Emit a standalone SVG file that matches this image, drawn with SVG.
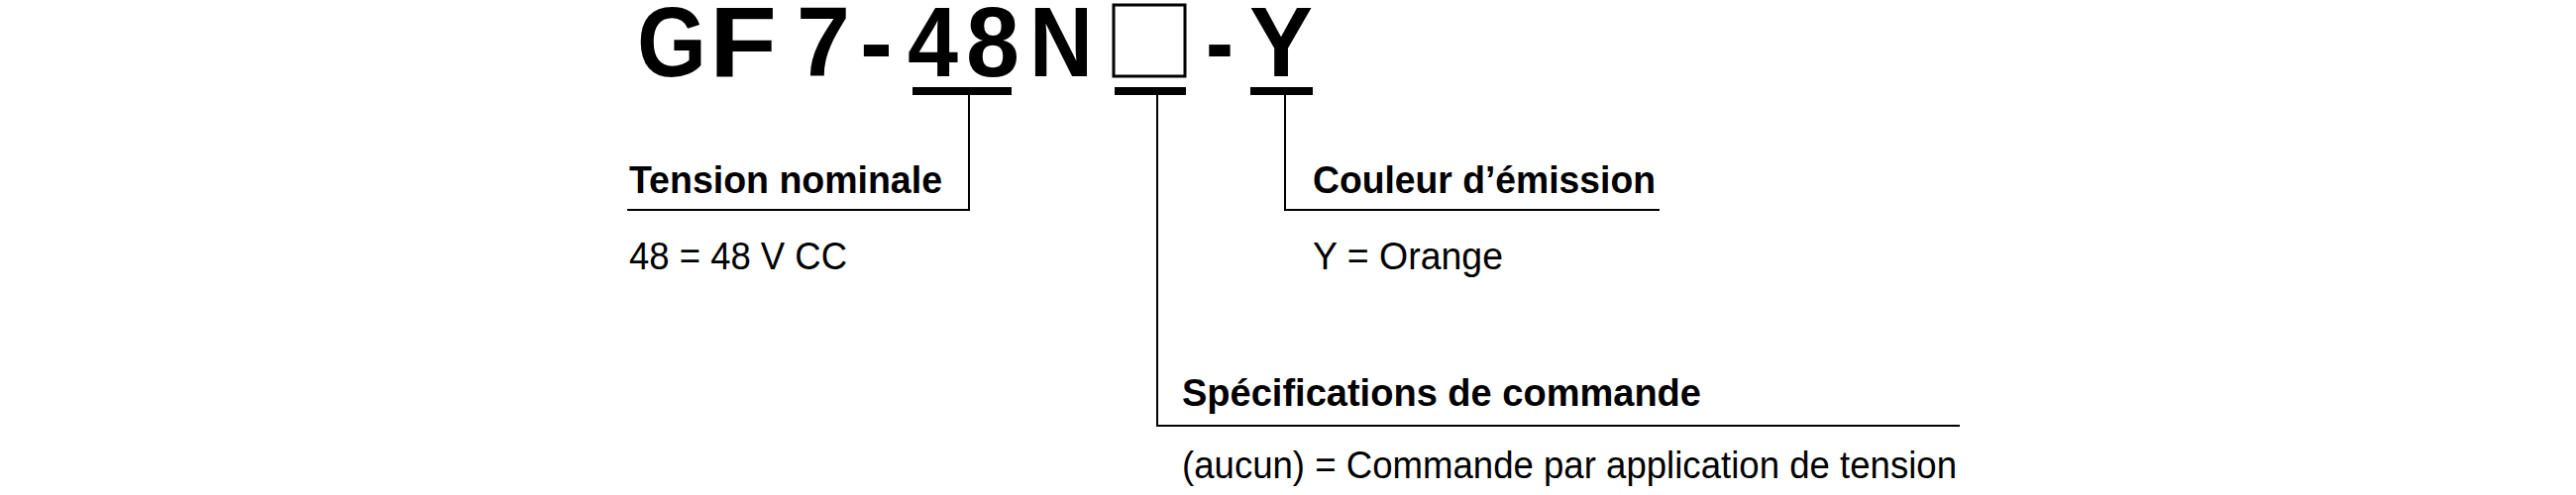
<svg xmlns="http://www.w3.org/2000/svg" width="2600" height="500" viewBox="0 0 2600 500">
<style>
.t{font-family:"Liberation Sans",Arial,sans-serif;font-weight:bold;font-size:100px;fill:#000}
.b{font-family:"Liberation Sans",Arial,sans-serif;font-weight:bold;font-size:38px;fill:#000}
.r{font-family:"Liberation Sans",Arial,sans-serif;font-size:38px;fill:#000}
.ul{stroke:#000;stroke-width:8;fill:none}
.ln{stroke:#000;stroke-width:2;fill:none}
</style>
<rect width="2600" height="500" fill="#fff"/>
<g id="code">
<text class="t" x="643" y="77" textLength="70" lengthAdjust="spacingAndGlyphs">G</text>
<text class="t" x="716" y="77" textLength="68" lengthAdjust="spacingAndGlyphs">F</text>
<text class="t" x="804" y="77" textLength="54" lengthAdjust="spacingAndGlyphs">7</text>
<text class="t" x="868" y="77" textLength="33" lengthAdjust="spacingAndGlyphs">-</text>
<text class="t" x="916" y="77" textLength="51" lengthAdjust="spacingAndGlyphs">4</text>
<text class="t" x="975" y="77" textLength="54" lengthAdjust="spacingAndGlyphs">8</text>
<text class="t" x="1039" y="77" textLength="64" lengthAdjust="spacingAndGlyphs">N</text>
<rect x="1124" y="5" width="72" height="72" fill="none" stroke="#000" stroke-width="3"/>
<text class="t" x="1217" y="77" textLength="28" lengthAdjust="spacingAndGlyphs">-</text>
<text class="t" x="1261" y="77" textLength="64" lengthAdjust="spacingAndGlyphs">Y</text>
</g>
<g id="connectors">
<line class="ul" x1="921" y1="92" x2="1021" y2="92"/>
<line class="ul" x1="1125" y1="92" x2="1197" y2="92"/>
<line class="ul" x1="1262" y1="92" x2="1325" y2="92"/>
<polyline class="ln" points="978,92 978,212 633,212"/>
<polyline class="ln" points="1168,92 1168,430 1978,430"/>
<polyline class="ln" points="1297,92 1297,212 1675,212"/>
</g>
<g id="tension">
<text class="b" x="635" y="195" textLength="316" lengthAdjust="spacingAndGlyphs">Tension nominale</text>
<text class="r" x="635" y="272" textLength="220" lengthAdjust="spacingAndGlyphs">48 = 48 V CC</text>
</g>
<g id="couleur">
<text class="b" x="1325" y="195" textLength="346" lengthAdjust="spacingAndGlyphs">Couleur d’émission</text>
<text class="r" x="1325" y="272" textLength="192" lengthAdjust="spacingAndGlyphs">Y = Orange</text>
</g>
<g id="commande">
<text class="b" x="1193" y="410" textLength="524" lengthAdjust="spacingAndGlyphs">Spécifications de commande</text>
<text class="r" x="1193" y="483" textLength="782" lengthAdjust="spacingAndGlyphs">(aucun) = Commande par application de tension</text>
</g>
</svg>
